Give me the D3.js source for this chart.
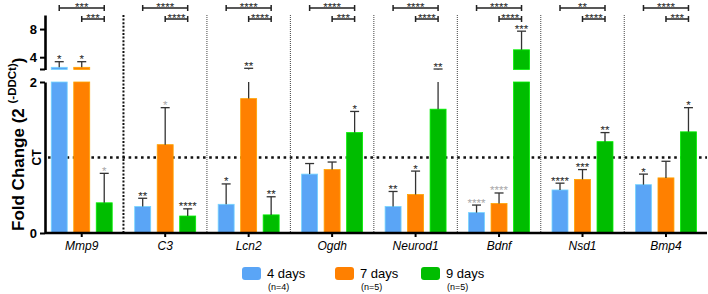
<!DOCTYPE html>
<html>
<head>
<meta charset="utf-8">
<script src="https://cdn.jsdelivr.net/npm/d3@7"></script>
<style>
  body { margin: 0; background: #fff; }
  svg { font-family: "Liberation Sans", Arial, sans-serif; }
</style>
</head>
<body>
<script>
const genes = ['Mmp9', 'C3', 'Lcn2', 'Ogdh', 'Neurod1', 'Bdnf', 'Nsd1', 'Bmp4'];
const series = ['4 days', '7 days', '9 days'];
const counts = ['(n=4)', '(n=5)', '(n=5)'];
const colors = ['#5aa5f6', '#ff8000', '#00bd00'];

const mean4 = [2.56, 0.35, 0.38, 0.78, 0.35, 0.27, 0.57, 0.64];
const mean7 = [2.56, 1.17, 1.78, 0.84, 0.51, 0.39, 0.71, 0.73];
const mean9 = [0.40, 0.225, 0.24, 1.33, 1.64, 5.05, 1.21, 1.34];
const sem4 = [0.80, 0.11, 0.27, 0.14, 0.20, 0.10, 0.09, 0.14];
const sem7 = [0.80, 0.49, 0.64, 0.10, 0.31, 0.14, 0.13, 0.22];
const sem9 = [0.39, 0.095, 0.24, 0.28, 0.68, 2.65, 0.12, 0.32];

const stars4 = ['*', '**', '*', '', '**', '****', '****', '*'];
const stars7 = ['*', '*', '**', '', '*', '****', '***', ''];
const stars9 = ['*', '****', '**', '*', '**', '***', '**', '*'];
const grey4 = [0, 0, 0, 0, 0, 1, 0, 0];
const grey7 = [0, 1, 0, 0, 0, 1, 0, 0];
const grey9 = [1, 0, 0, 0, 0, 0, 0, 0];

// brackets: 4d vs 9d (long) and 7d vs 9d (short)
const longStars = ['***', '****', '****', '****', '****', '****', '**', '****'];
const shortStars = ['***', '****', '****', '***', '****', '****', '****', '***'];

const width = 708, height = 294;
const axisX = 45, baseY = 233;

const means = [mean4, mean7, mean9], sems = [sem4, sem7, sem9];
const stars = [stars4, stars7, stars9], greys = [grey4, grey7, grey9];

const dataset = genes.flatMap((g, i) => series.map((s, j) => ({
  gene: g, series: s, idx: j,
  mean: means[j][i], sem: sems[j][i],
  star: stars[j][i], grey: greys[j][i]
})));

const x0 = d3.scaleBand().domain(genes).range([40, 707.7]);
const x1 = d3.scaleBand().domain(series).range([-33.75, 33.75])
             .paddingInner(0.29).paddingOuter(0.145);
const cx = g => x0(g) + x0.bandwidth() / 2;
const barX = d => cx(d.gene) + x1(d.series);
const barMid = d => barX(d) + x1.bandwidth() / 2;

const yLow = d3.scaleLinear().domain([0, 2]).range([baseY, 82]);
const yTop = d3.scaleLinear().domain([2.25, 10]).range([69.5, 15]);
const yAny = v => v > 2 ? yTop(v) : yLow(v);

const svg = d3.select('body').append('svg')
  .attr('width', width).attr('height', height);

// separators between gene groups
genes.slice(1).forEach((g, i) => {
  const sx = x0(g);
  svg.append('line')
    .attr('x1', sx).attr('x2', sx)
    .attr('y1', 15).attr('y2', baseY)
    .attr('stroke', i === 0 ? '#111' : '#444')
    .attr('stroke-width', i === 0 ? 2 : 1)
    .attr('stroke-dasharray', i === 0 ? '2 1.6' : '1 1');
});

// CT reference line
svg.append('line')
  .attr('x1', axisX + 3).attr('x2', 707)
  .attr('y1', yLow(1)).attr('y2', yLow(1))
  .attr('stroke', '#111').attr('stroke-width', 2.6)
  .attr('stroke-dasharray', '2.6 3.6');

// bars (lower segment)
svg.append('g').selectAll('rect')
  .data(dataset).enter().append('rect')
  .attr('x', barX)
  .attr('y', d => yLow(Math.min(d.mean, 2)))
  .attr('width', x1.bandwidth())
  .attr('height', d => baseY - yLow(Math.min(d.mean, 2)))
  .attr('fill', d => colors[d.idx])
  .attr('stroke', d => d3.color(colors[d.idx]).brighter(0.7))
  .attr('stroke-width', 0.8);

// bars (upper segment, only for values above the break)
svg.append('g').selectAll('rect')
  .data(dataset.filter(d => d.mean > 2)).enter().append('rect')
  .attr('x', barX)
  .attr('y', d => yTop(d.mean))
  .attr('width', x1.bandwidth())
  .attr('height', d => yTop(2.25) - yTop(d.mean))
  .attr('fill', d => colors[d.idx])
  .attr('stroke', d => d3.color(colors[d.idx]).brighter(0.7))
  .attr('stroke-width', 0.8);

// error bars
const err = svg.append('g').attr('stroke', '#333').attr('stroke-width', 1.3);
dataset.forEach(d => {
  const up = d.mean + d.sem, mx = barMid(d);
  const segs = [];
  if (d.mean > 2) segs.push([yTop(d.mean), yTop(up)]);
  else if (up > 2) { segs.push([yLow(d.mean), yLow(2)]); segs.push([yTop(2.25), yTop(up)]); }
  else segs.push([yLow(d.mean), yLow(up)]);
  segs.forEach(s => err.append('line')
    .attr('x1', mx).attr('x2', mx).attr('y1', s[0]).attr('y2', s[1]));
  err.append('line')
    .attr('x1', mx - 4.5).attr('x2', mx + 4.5)
    .attr('y1', yAny(up)).attr('y2', yAny(up));
});

// significance stars above bars
svg.append('g').selectAll('text')
  .data(dataset.filter(d => d.star)).enter().append('text')
  .attr('x', barMid)
  .attr('y', d => yAny(d.mean + d.sem) + 1.5)
  .attr('text-anchor', 'middle')
  .attr('font-size', 11.5)
  .attr('fill', d => d.grey ? '#a8a8a8' : '#222')
  .text(d => d.star);

// comparison brackets
const brk = svg.append('g');
genes.forEach((g, i) => {
  const xb = barMid({ gene: g, series: series[0] }),
        xo = barMid({ gene: g, series: series[1] }),
        xg = barMid({ gene: g, series: series[2] });
  [[xb, 8, longStars[i]], [xo, 19, shortStars[i]]].forEach(([xs, yy, lab]) => {
    brk.append('path')
      .attr('d', `M${xs},${yy - 3}V${yy + 3}M${xs},${yy}H${xg}M${xg},${yy - 3}V${yy + 3}`)
      .attr('fill', 'none').attr('stroke', '#222').attr('stroke-width', 1.5);
    brk.append('text')
      .attr('x', (xs + xg) / 2).attr('y', yy + 3)
      .attr('text-anchor', 'middle').attr('font-size', 11.5)
      .attr('fill', '#222').text(lab);
  });
});

// axes
const styleAxis = sel => {
  sel.select('.domain').attr('stroke', '#000').attr('stroke-width', 2.6);
  sel.selectAll('.tick line').attr('stroke', '#000').attr('stroke-width', 2);
};

svg.append('g')
  .attr('transform', `translate(${axisX},0)`)
  .call(d3.axisLeft(yLow).tickValues([0, 2]).tickFormat(d3.format('d')).tickSize(5).tickSizeOuter(0))
  .call(styleAxis)
  .call(g => g.selectAll('text').attr('font-size', 13).attr('font-weight', 'bold')
    .attr('fill', '#000').attr('font-family', '"Liberation Sans", Arial, sans-serif'));

svg.append('g')
  .attr('transform', `translate(${axisX},0)`)
  .call(d3.axisLeft(yTop).tickValues([4, 8]).tickFormat(d3.format('d')).tickSize(5).tickSizeOuter(0))
  .call(styleAxis)
  .call(g => g.append('line').attr('x1', -5).attr('x2', 0)
    .attr('y1', yTop(2.25)).attr('y2', yTop(2.25))
    .attr('stroke', '#000').attr('stroke-width', 2))
  .call(g => g.selectAll('text').attr('font-size', 13).attr('font-weight', 'bold')
    .attr('fill', '#000').attr('font-family', '"Liberation Sans", Arial, sans-serif'));

svg.append('text')
  .attr('transform', `translate(${axisX - 4},${yLow(1)}) rotate(-90)`)
  .attr('text-anchor', 'middle')
  .attr('font-size', 12).attr('font-weight', 'bold')
  .text('CT');

svg.append('g')
  .attr('transform', `translate(0,${baseY})`)
  .call(d3.axisBottom(x0).tickSize(4).tickSizeOuter(0))
  .call(styleAxis)
  .call(g => g.select('.domain').attr('d', `M${axisX},0H707`))
  .call(g => g.selectAll('text').attr('font-size', 12).attr('font-style', 'italic')
    .attr('fill', '#000').attr('dy', null).attr('y', 17)
    .attr('font-family', '"Liberation Sans", Arial, sans-serif'));

// y title
const title = svg.append('text')
  .attr('transform', 'translate(24,231) rotate(-90)')
  .attr('font-size', 17).attr('font-weight', 'bold')
  .text('Fold Change (2 ');
title.append('tspan')
  .attr('dy', -8).attr('font-size', 11.5)
  .text('(-DDCt)');
title.append('tspan').attr('dy', 8).text(')');

// legend
const legendX = [242, 335, 421];
const legend = svg.append('g');
series.forEach((s, i) => {
  legend.append('rect')
    .attr('x', legendX[i]).attr('y', 267)
    .attr('width', 19).attr('height', 13).attr('rx', 3)
    .attr('fill', colors[i]);
  legend.append('text')
    .attr('x', legendX[i] + 25).attr('y', 278)
    .attr('font-size', 13).text(s);
  legend.append('text')
    .attr('x', legendX[i] + 26).attr('y', 290)
    .attr('font-size', 9).text(counts[i]);
});
</script>
</body>
</html>
